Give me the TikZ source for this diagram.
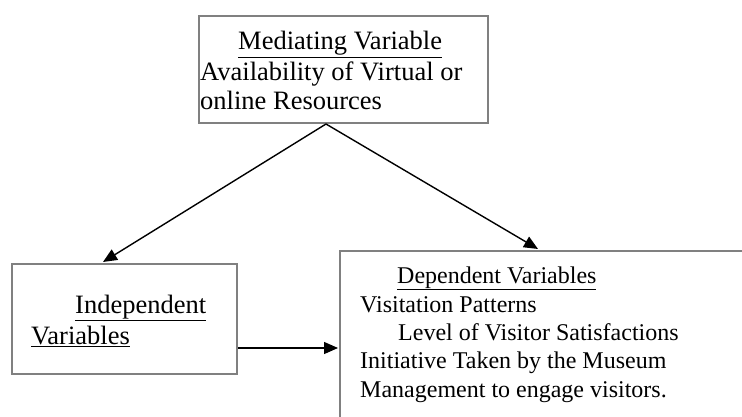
\documentclass[tikz,border=0pt]{standalone}
\usepackage{fontspec}
\setmainfont{Liberation Serif}
\usetikzlibrary{arrows.meta}
\definecolor{boxgray}{RGB}{128,128,128}
\begin{document}
\begin{tikzpicture}[x=1pt,y=-1pt,
  box/.style={draw=boxgray,line width=2pt,inner sep=0pt,anchor=north west},
  big/.style={anchor=base west,inner sep=0pt,font=\fontsize{26.5}{29.5}\selectfont},
  small/.style={anchor=base west,inner sep=0pt,font=\fontsize{24}{28.5}\selectfont},
  arr/.style={line width=1.4pt,-{Triangle[length=14pt,width=12pt]}}]
\useasboundingbox (0,0) rectangle (742,417);
% boxes
\node[box,minimum width=289pt,minimum height=107pt] (top) at (198,15) {};
\node[box,minimum width=225pt,minimum height=110pt] (indep) at (11,263) {};
\node[box,minimum width=450pt,minimum height=200pt] (dep) at (339,250) {};
% texts
\node[big] (t1) at (238,50) {\underline{Mediating Variable}};
\node[big] (t2) at (200,81) {Availability of Virtual or};
\node[big] (t3) at (200,110) {online Resources};
\node[big] (i1) at (75,313) {\underline{Independent}};
\node[big] (i2) at (31,344) {\underline{Variables}};
\node[small] (d1) at (397,283) {\underline{Dependent Variables}};
\node[small] (d2) at (360,312) {Visitation Patterns};
\node[small] (d3) at (398,340) {Level of Visitor Satisfactions};
\node[small] (d4) at (360,368) {Initiative Taken by the Museum};
\node[small] (d5) at (360,397) {Management to engage visitors.};
% connectors
\coordinate (src) at ([xshift=128pt]top.south west);
\draw[arr] (src) -- ([xshift=92pt,yshift=1pt]indep.north west);
\draw[arr] (src) -- ([xshift=199pt,yshift=1pt]dep.north west);
\coordinate (hs) at ([yshift=-29pt]indep.east);
\draw[arr] (hs) -- ([xshift=-1pt]hs -| dep.west);
\end{tikzpicture}
\end{document}
